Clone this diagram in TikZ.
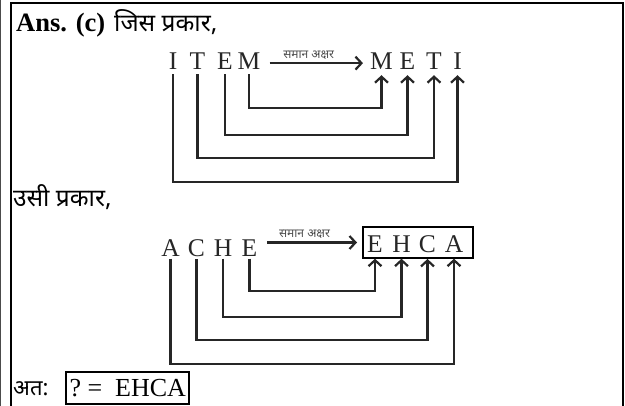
\documentclass[tikz,border=0pt]{standalone}
\usepackage{fontspec}
\setmainfont{Liberation Serif}
\newfontfamily\hindi[Script=Devanagari]{Noto Sans}
\usetikzlibrary{arrows.meta}
\begin{document}
\begin{tikzpicture}[x=1pt,y=-1pt,
  frame/.style={line width=2pt},
  letter/.style={inner sep=0pt, anchor=base, font=\fontsize{25.5}{30}\selectfont, text=black!85},
  conn/.style={line width=2.2pt, black!85, -{Straight Barb[length=6pt,width=13pt]}},
  lab/.style={font=\hindi\fontsize{12}{14}\selectfont, text=black!70, inner sep=1pt},
  head/.style={inner sep=0pt, anchor=base west},
  hin/.style={head, font=\hindi\fontsize{24.5}{28}\selectfont},
  lat/.style={head, font=\fontsize{26}{30}\selectfont}
]
\useasboundingbox (0,0) rectangle (625,406);
% frame
\draw[line width=1pt, black!70] (0.5,0) -- (0.5,406);
\draw[frame] (10.5,406) -- (10.5,3) -- (622.5,3) -- (622.5,406);

% header
\node[lat, font=\bfseries\fontsize{26.5}{30}\selectfont] (ans) at (16,32) {Ans. (c)};
\node[hin] (jis) at (114,32) {जिस प्रकार,};

% first word and its reverse
\node[letter] (I1) at (173,70) {I};
\node[letter] (T1) at (197.5,70) {T};
\node[letter] (E1) at (225,70) {E};
\node[letter] (M1) at (249,70) {M};
\node[letter] (M2) at (381.5,70) {M};
\node[letter] (E2) at (407.5,70) {E};
\node[letter] (T2) at (434,70) {T};
\node[letter] (I2) at (457.5,70) {I};

\draw[conn, shorten <=9pt, shorten >=7pt] ([yshift=-1.5pt]M1.east) -- ([yshift=-1.5pt]M2.west)
  node[lab, pos=0.44, above=2pt] {समान अक्षर};

\foreach \s/\d/\h in {M1/M2/108, E1/E2/135, T1/T2/158, I1/I2/182}
  \draw[conn, shorten <=4pt, shorten >=5pt] (\s.south) -- (\s.south |- 0,\h) -| (\d.south);

% second line
\node[hin] (usi) at (13,207) {उसी प्रकार,};

\node[letter] (A3) at (170.5,257) {A};
\node[letter] (C3) at (196.5,257) {C};
\node[letter] (H3) at (223,257) {H};
\node[letter] (E3) at (249.5,257) {E};

\node[draw, line width=2pt, minimum width=110pt, minimum height=31pt, inner sep=0pt] (box) at (418,242.5) {};
\node[letter] (E4) at (375,253) {E};
\node[letter] (H4) at (401.5,253) {H};
\node[letter] (C4) at (427.5,253) {C};
\node[letter] (A4) at (454,253) {A};

\draw[conn, shorten <=10pt, shorten >=5pt] (E3.east |- box.west) -- (box.west)
  node[lab, pos=0.45, above=2pt] {समान अक्षर};

\foreach \s/\d/\h in {E3/E4/291, H3/H4/317, C3/C4/340, A3/A4/364}
  \draw[conn, shorten <=1.5pt, shorten >=5.5pt] (\s.south) -- (\s.south |- 0,\h) -| (\d.south);

% conclusion
\node[hin, font=\hindi\fontsize{22}{26}\selectfont] (ata) at (13,396) {अत:};
\node[lat, draw, line width=2pt, inner xsep=3.5pt, inner ysep=0pt, text height=25pt, text depth=7pt] (res) at (65,397) {?\ =\ \ EHCA};
\end{tikzpicture}
\end{document}
